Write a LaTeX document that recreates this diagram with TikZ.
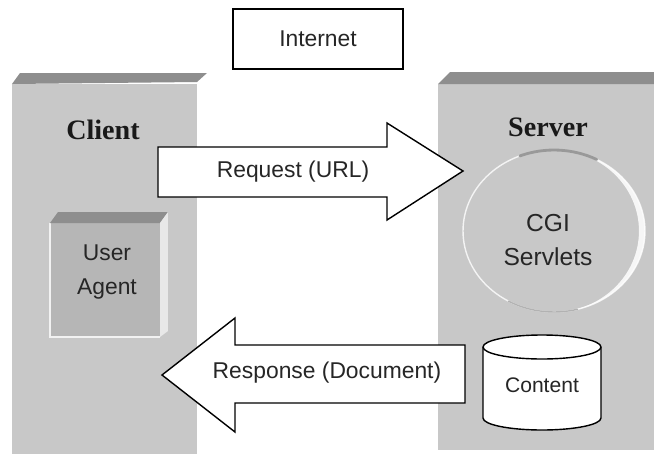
\documentclass[tikz,border=0pt]{standalone}
\usepackage{fontspec}
\setmainfont{Liberation Sans}
\newfontfamily\serifb{Liberation Serif}
\definecolor{panel}{HTML}{C8C8C8}
\definecolor{bevel}{HTML}{8E8E8E}
\definecolor{uaf}{HTML}{B6B6B6}
\definecolor{uaside}{HTML}{E8E8E8}
\definecolor{ink}{HTML}{262626}
\tikzset{
  lbl/.style={text=ink, font=\fontsize{13}{19.8}\selectfont, inner sep=0pt},
  title/.style={text=black!90, font=\serifb\bfseries\fontsize{16}{18}\selectfont, inner sep=0pt},
  blockarrow/.style={draw=black, fill=white, line width=0.8pt, line join=miter},
}
\begin{document}
\begin{tikzpicture}[x=0.02cm,y=-0.02cm]
\fill[white] (0,0) rectangle (654,454);
\useasboundingbox (0,0) rectangle (654,454);

% Internet box
\node[draw=black, line width=0.8pt, minimum width=3.4cm, minimum height=1.2cm, lbl] (internet) at (318,39) {Internet};

% Client panel
\fill[panel] (12,84) rectangle (197,454);
\fill[bevel] (12,84) -- (20,73) -- (207,73) -- (197,82) -- cycle;
\node[title] (client) at (103,130) {Client};

% User agent box
\fill[uaf] (50,223) rectangle (160,337);
\draw[white!90!gray, line width=1pt] (50,223) -- (50,337) -- (160,337);
\fill[bevel] (50,223) -- (58,212) -- (168,212) -- (160,223) -- cycle;
\fill[uaside] (160,223) -- (168,212) -- (168,331) -- (160,337) -- cycle;
\node[lbl, align=center] (ua) at (107,272) {User\\Agent};

% Server panel
\fill[panel] (438,84) rectangle (654,450);
\fill[bevel] (438,84) -- (450,72) -- (654,72) -- (654,84) -- cycle;
\node[title] (server) at (548,127) {Server};

% CGI ellipse
\coordinate (ec) at (554,231);
\begin{scope}[shift={(ec)}, x=1cm, y=1cm]
  \draw[white, line width=0.8pt, opacity=0.8] (0,0) ellipse [x radius=1.82, y radius=1.62];
  \fill[white, opacity=0.85] (0,1.62) arc[start angle=90, end angle=-90, x radius=1.82, y radius=1.62]
        arc[start angle=-90, end angle=90, x radius=1.70, y radius=1.62] -- cycle;
  \draw[gray!80, line width=1.6pt, line cap=round] (112:1.82 and 1.62) arc[start angle=112, end angle=62, x radius=1.82, y radius=1.62];
  \draw[gray!60, line width=0.8pt, line cap=round] (-120:1.82 and 1.62) arc[start angle=-120, end angle=-75, x radius=1.82, y radius=1.62];
\end{scope}
\node[lbl, align=center, font=\fontsize{14}{19.8}\selectfont] (cgi) at (548,240) {CGI\\Servlets};

% Content cylinder
\coordinate (cyl) at (542,347);
\begin{scope}[shift={(cyl)}, y=0.02cm]
  \filldraw[fill=white, draw=black, line width=0.8pt] (-59,0) -- (-59,-71)
     arc[start angle=180, end angle=360, x radius=59, y radius=12] -- (59,0)
     arc[start angle=0, end angle=180, x radius=59, y radius=12] -- cycle;
  \draw[line width=0.8pt] (-59,0) arc[start angle=180, end angle=360, x radius=59, y radius=12];
\end{scope}
\node[lbl, font=\fontsize{12}{14}\selectfont] (content) at (542,385) {Content};

% Request arrow
\draw[blockarrow] (158,147) -- (387,147) -- (387,123) -- (463,171) -- (387,220) -- (387,197) -- (158,197) -- cycle;
\node[lbl] (req) at (293,172) {Request (URL)};

% Response arrow
\draw[blockarrow] (465,345) -- (235,345) -- (235,318) -- (162,375) -- (235,432) -- (235,403) -- (465,403) -- cycle;
\node[lbl] (resp) at (327,373) {Response (Document)};
\end{tikzpicture}
\end{document}
